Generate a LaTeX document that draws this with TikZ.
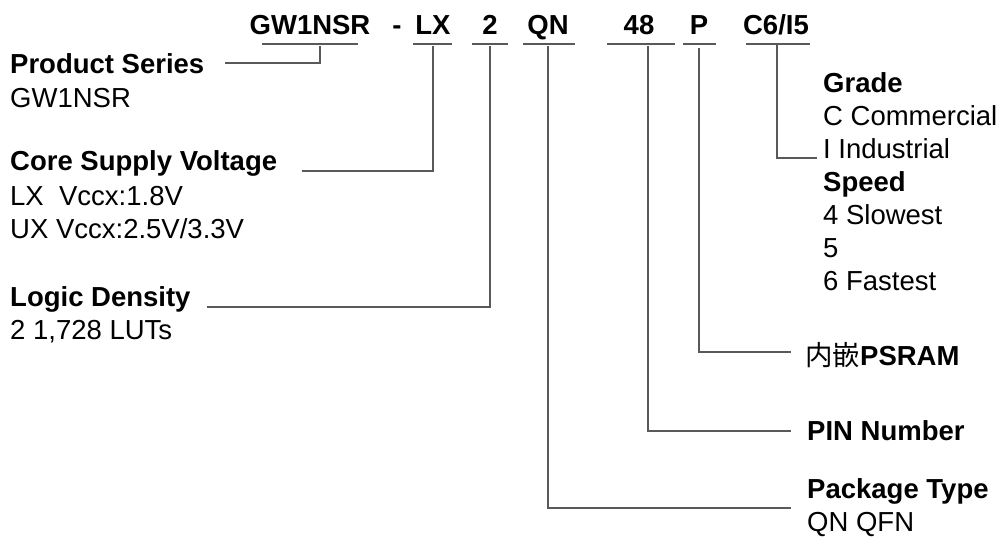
\documentclass[tikz,border=0pt]{standalone}
\usepackage{fontspec}
\setmainfont{Liberation Sans}
\newfontfamily\cjk{Noto Sans CJK SC}
\begin{document}
\begin{tikzpicture}[x=1pt,y=-1pt,
  lbl/.style={inner sep=0pt, anchor=base west, font=\fontsize{27.5}{33}\selectfont},
  bl/.style={inner sep=0pt, anchor=base west, font=\fontsize{27.5}{33}\selectfont\bfseries},
  code/.style={inner sep=0pt, anchor=base, font=\fontsize{27.5}{33}\selectfont\bfseries},
  ln/.style={draw=black!65, line width=1.3pt}]
\useasboundingbox (0,0) rectangle (1004,536);
% top code
\node[code] (cGW) at (310,34) {GW1NSR};
\node[code] (cDash) at (397,34) {-};
\node[code] (cLX) at (433,34) {LX};
\node[code] (c2) at (490,34) {2};
\node[code] (cQN) at (548,34) {QN};
\node[code] (c48) at (639,34) {48};
\node[code] (cP) at (699,34) {P};
\node[code] (cC) at (776,34) {C6/I5};
% underlines
\coordinate (uGWa) at (262,44); \coordinate (uGWb) at (358,44);
\coordinate (uLXa) at (413,44); \coordinate (uLXb) at (452,44);
\coordinate (u2a) at (472,44); \coordinate (u2b) at (508,44);
\coordinate (uQNa) at (523,44); \coordinate (uQNb) at (575,44);
\coordinate (u48a) at (607,44); \coordinate (u48b) at (675,44);
\coordinate (uPa) at (683,44); \coordinate (uPb) at (716,44);
\coordinate (uCa) at (746,44); \coordinate (uCb) at (810,44);
\foreach \n in {GW,LX,2,QN,48,P,C} \draw[ln] (u\n a) -- (u\n b);
% left labels
\node[bl] (ps) at (10,73) {Product Series};
\node[lbl] (psv) at (10,107) {GW1NSR};
\node[bl] (cs) at (10,170) {Core Supply Voltage};
\node[lbl] (cs1) at (10,205) {LX\ \ Vccx:1.8V};
\node[lbl] (cs2) at (10,238) {UX Vccx:2.5V/3.3V};
\node[bl] (ld) at (10,306) {Logic Density};
\node[lbl] (ld1) at (10,339) {2 1,728 LUTs};
% right labels
\node[bl] (gr) at (823,92) {Grade};
\node[lbl] (gr1) at (823,125) {C Commercial};
\node[lbl] (gr2) at (823,158) {I Industrial};
\node[bl] (sp) at (823,191) {Speed};
\node[lbl] (sp1) at (823,224) {4 Slowest};
\node[lbl] (sp2) at (823,257) {5};
\node[lbl] (sp3) at (823,290) {6 Fastest};
\node[bl] (ps2) at (805,365) {{\cjk\mdseries 内嵌}PSRAM};
\node[bl] (pin) at (807,440) {PIN Number};
\node[bl] (pk) at (807,498) {Package Type};
\node[lbl] (pk1) at (807,531) {QN QFN};
% connector coordinates
\coordinate (vGW) at (320,46); \coordinate (eGW) at (225,63);
\coordinate (vLX) at (433,46); \coordinate (eLX) at (302,171);
\coordinate (v2) at (490,46); \coordinate (e2) at (207,307);
\coordinate (vQN) at (548,46); \coordinate (eQN) at (791,508);
\coordinate (v48) at (648,46); \coordinate (e48) at (791,431);
\coordinate (vP) at (699,48); \coordinate (eP) at (791,352);
\coordinate (vC) at (777,45); \coordinate (eC) at (817,158);
\draw[ln] (vGW) |- (eGW);
\draw[ln] (vLX) |- (eLX);
\draw[ln] (v2) |- (e2);
\draw[ln] (vQN) |- (eQN);
\draw[ln] (v48) |- (e48);
\draw[ln] (vP) |- (eP);
\draw[ln] (vC) |- (eC);
\end{tikzpicture}
\end{document}
